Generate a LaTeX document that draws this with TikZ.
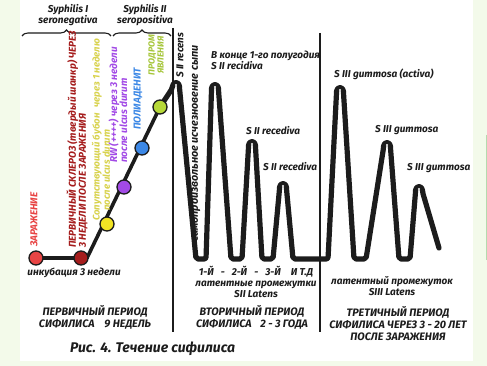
\documentclass[tikz,border=0pt]{standalone}
\usepackage{fontspec}
\setmainfont{Fira Sans}
\usetikzlibrary{decorations.pathreplacing}
\definecolor{bgg}{HTML}{F3FAEA}
\definecolor{edgeg}{HTML}{B5DAAE}
\definecolor{cred}{HTML}{E84444}
\definecolor{cdred}{HTML}{A51C1C}
\definecolor{cyel}{HTML}{D8D24C}
\definecolor{cyeldot}{HTML}{F2E424}
\definecolor{cpur}{HTML}{A24AE6}
\definecolor{cblu}{HTML}{3C88E6}
\definecolor{cgrn}{HTML}{A6C63A}
\definecolor{cgrndot}{HTML}{B6D838}
\definecolor{ink}{HTML}{1C1C1C}
\begin{document}
\begin{tikzpicture}[x=1pt,y=-1pt,
  lbl/.style={font=\fontsize{10}{10}\selectfont\bfseries\itshape, inner sep=0pt, text=ink},
  blbl/.style={font=\fontsize{10.8}{12}\selectfont\bfseries\itshape, inner sep=0pt, text=ink},
  rlbl/.style={font=\fontsize{10}{10}\selectfont\bfseries\itshape, inner sep=0pt, rotate=90},
  captxt/.style={font=\fontsize{14}{16}\selectfont\bfseries\itshape, inner sep=0pt, text=ink},
  dot/.style={circle, draw=ink, line width=1.3pt, minimum size=14pt, inner sep=0pt},
  divider/.style={draw=ink, line width=1.1pt},
  thinc/.style={draw=ink, line width=3.6pt, line join=round},
  thickc/.style={draw=ink, line width=5.2pt, rounded corners=2pt, line join=round, line cap=round},
  bracestyle/.style={draw=ink, line width=1.1pt, decorate, decoration={brace, amplitude=6pt}}
]
\useasboundingbox (0,0) rectangle (487,366);
\fill[bgg] (0,0) rectangle (487,366);
\fill[white] (20,0) rectangle (473,361);
\draw[edgeg, line width=1pt] (486,135) -- (486,260);

% dividers
\coordinate (d1t) at (173,28); \coordinate (d1b) at (173,332);
\coordinate (d2t) at (320,33); \coordinate (d2b) at (320,332);
\draw[divider] (d1t) -- (d1b);
\draw[divider] (d2t) -- (d2b);

% braces
\coordinate (b1a) at (22,36); \coordinate (b1b) at (111,36);
\coordinate (b2a) at (113,36); \coordinate (b2b) at (171,36);
\draw[bracestyle] (b1a) -- (b1b);
\draw[bracestyle] (b2a) -- (b2b);
\node[lbl, align=center] (sI) at (68,15) {Syphilis I\\seronegativa};
\node[lbl, align=center] (sII) at (145,15) {Syphilis II\\seropositiva};

% curve coordinates
\coordinate (c0) at (36,258);
\coordinate (c1) at (87,258);
\coordinate (cg) at (160,107);

% primary line
\draw[thinc] (c0) -- (c1) -- (cg);
% secondary + tertiary waves (rounded peaks)
\draw[thickc] (cg) -- (172.5,88) .. controls (172.8,81.5) and (179.2,81.5) .. (179.5,88)
  -- (196,259) -- (206,259)
  -- (211.5,90) .. controls (211.8,83.5) and (218.2,83.5) .. (218.5,90)
  -- (231,259) -- (242,259)
  -- (248.5,147) .. controls (248.8,140.5) and (255.2,140.5) .. (255.5,147)
  -- (262,259) -- (273,259)
  -- (279.5,189) .. controls (279.8,182.5) and (286.2,182.5) .. (286.5,189)
  -- (293,259) -- (328,259)
  -- (336.5,93) .. controls (336.8,86.5) and (343.2,86.5) .. (343.5,93)
  -- (354,259) -- (366,259)
  -- (383.5,148) .. controls (383.8,141.5) and (390.2,141.5) .. (390.5,148)
  -- (399,259) -- (410,259)
  -- (415.5,192) .. controls (415.8,185.5) and (422.2,185.5) .. (422.5,192)
  -- (439,248);
\foreach \px/\py in {176/83,215/85,252/142,283/184,340/88,387/143,419/187}
  \fill[white] (\px,\py+2) circle (1.1pt);

% dots
\node[dot, fill=cred] (n1) at (36,258) {};
\node[dot, fill=cdred] (n2) at (81,258) {};
\node[dot, fill=cyeldot] (n3) at (107,224) {};
\node[dot, fill=cpur] (n4) at (124,187) {};
\node[dot, fill=cblu] (n5) at (142,148) {};
\node[dot, fill=cgrndot] (n6) at (160,107) {};

% rotated labels primary period
\node[rlbl, text=cred, anchor=west] (tz) at (34,247) {ЗАРАЖЕНИЕ};
\node[rlbl, text=cdred, anchor=west, align=left] (ts) at (77,248) {ПЕРВИЧНЫЙ СКЛЕРОЗ (твердый шанкр) ЧЕРЕЗ\\3 НЕДЕЛИ ПОСЛЕ ЗАРАЖЕНИЯ};
\node[rlbl, text=cyel, anchor=west, align=left, font=\fontsize{9.6}{9}\selectfont\bfseries\itshape] (tb) at (101,221) {Сопутствующий бубон\hspace{0.6em}через 1 неделю\\\hspace*{10pt}после ulcus durum};
\node[rlbl, text=cpur, anchor=west, align=left] (tr) at (118,163) {RW (++++) через 3 недели\\после ulcus durum};
\node[rlbl, text=cblu, anchor=west] (tp) at (138,130) {ПОЛИАДЕНИТ};
\node[rlbl, text=cgrn, align=center, font=\fontsize{8.8}{9}\selectfont\bfseries\itshape] (tpr) at (156,55) {ПРОДРОМ\\ЯВЛЕНИЯ};
\node[lbl, rotate=90, anchor=west] (trec) at (180,78) {S II recens};
\node[rlbl, text=ink, anchor=west, font=\fontsize{10.8}{11}\selectfont\bfseries\itshape] (tsam) at (196,242) {самопроизвольное исчезновение сыпи};

\node[lbl, anchor=center] (tinc) at (74,273) {инкубация 3 недели};

% secondary labels
\node[lbl, anchor=base west, align=left] (tsr) at (211,70) {В конце 1-го полугодия\\S II recidiva};
\node[lbl, anchor=base west] (tsr2) at (246,135) {S II recediva};
\node[lbl, anchor=base west] (tsr3) at (263,171) {S II recediva};
\node[lbl, anchor=base] (tnum) at (256,275) {1-Й\hspace{0.7em}-\hspace{0.7em}2-Й\hspace{0.7em}-\hspace{0.7em}3-Й\hspace{1em}И Т.Д};
\node[lbl, anchor=base, align=center, font=\fontsize{10}{11}\selectfont\bfseries\itshape] (tlat) at (256,297) {латентные промежутки\\SII Latens};

% tertiary labels
\node[lbl, anchor=base west] (tg1) at (334,78) {S III gummosa (activa)};
\node[lbl, anchor=base west] (tg2) at (375,133) {S III gummosa};
\node[lbl, anchor=base west] (tg3) at (407,171) {S III gummosa};
\node[lbl, anchor=base, align=center, font=\fontsize{10}{11}\selectfont\bfseries\itshape] (tlat3) at (392,295) {латентный промежуток\\SIII Latens};

% bottom period labels
\node[blbl, anchor=center, align=center] (per1) at (95,317) {ПЕРВИЧНЫЙ ПЕРИОД\\СИФИЛИСА\hspace{0.9em}9 НЕДЕЛЬ};
\node[blbl, anchor=center, align=center] (per2) at (252,317) {ВТОРИЧНЫЙ ПЕРИОД\\СИФИЛИСА\hspace{0.8em}2 - 3 ГОДА};
\node[blbl, anchor=north, align=center] (per3) at (398,306) {ТРЕТИЧНЫЙ ПЕРИОД\\СИФИЛИСА ЧЕРЕЗ 3 - 20 ЛЕТ\\ПОСЛЕ ЗАРАЖЕНИЯ};

\node[captxt, anchor=west] (caption) at (70,349) {Рис. 4. Течение сифилиса};
\end{tikzpicture}
\end{document}
